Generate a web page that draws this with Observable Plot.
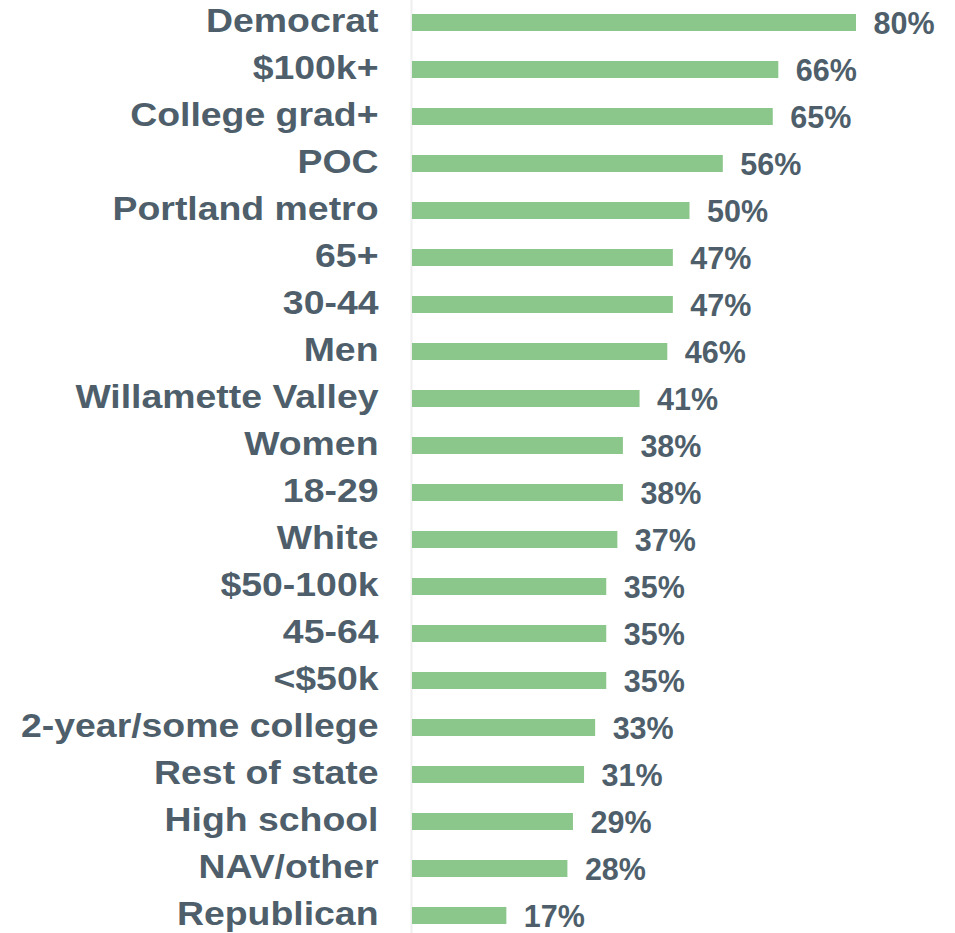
<!DOCTYPE html>
<html>
<head>
<meta charset="utf-8">
<script src="https://cdn.jsdelivr.net/npm/d3@7"></script>
<script src="https://cdn.jsdelivr.net/npm/@observablehq/plot@0.6"></script>
<style>
  html, body { margin: 0; padding: 0; background: #fff; }
</style>
</head>
<body>
<div id="chart"></div>
<script>
const categories = ["Democrat", "$100k+", "College grad+", "POC", "Portland metro", "65+", "30-44", "Men", "Willamette Valley", "Women", "18-29", "White", "$50-100k", "45-64", "<$50k", "2-year/some college", "Rest of state", "High school", "NAV/other", "Republican"];
const values = [80, 66, 65, 56, 50, 47, 47, 46, 41, 38, 38, 37, 35, 35, 35, 33, 31, 29, 28, 17];
const valueLabels = ["80%", "66%", "65%", "56%", "50%", "47%", "47%", "46%", "41%", "38%", "38%", "37%", "35%", "35%", "35%", "33%", "31%", "29%", "28%", "17%"];

const data = categories.map((c, i) => ({category: c, value: values[i], label: valueLabels[i]}));

const textColor = "#4e5f6b";
const barColor = "#8bc68a";

const chart = Plot.plot({
  width: 955,
  height: 933,
  marginLeft: 412,
  marginRight: 99,
  marginTop: 0,
  marginBottom: 0,
  style: {color: textColor, fontFamily: "'Liberation Sans', Arial, sans-serif", background: "#fff"},
  x: {domain: [0, 80], axis: null},
  y: {domain: categories, range: [-1.5, 939.5], paddingInner: 0.64, paddingOuter: 0.32, label: null},
  marks: [
    Plot.ruleX([0], {stroke: "#eeeeee", strokeWidth: 2, dx: -1}),
    Plot.barX(data, {x: "value", y: "category", fill: barColor}),
    Plot.text(data, {x: "value", y: "category", text: "label", textAnchor: "start", dx: 17, dy: 1, fontSize: 30.5, fontWeight: "bold", fill: textColor}),
    Plot.axisY({tickSize: 0, tickPadding: 34, fontSize: 34, fontWeight: "bold", dy: -2, label: null})
  ]
});

document.getElementById("chart").appendChild(chart);

d3.select(chart).selectAll('g[aria-label="y-axis tick label"] text').each(function() {
  const t = this.getAttribute("transform") || "";
  this.setAttribute("transform", (t + " scale(1.1,1)").trim());
});
</script>
</body>
</html>
